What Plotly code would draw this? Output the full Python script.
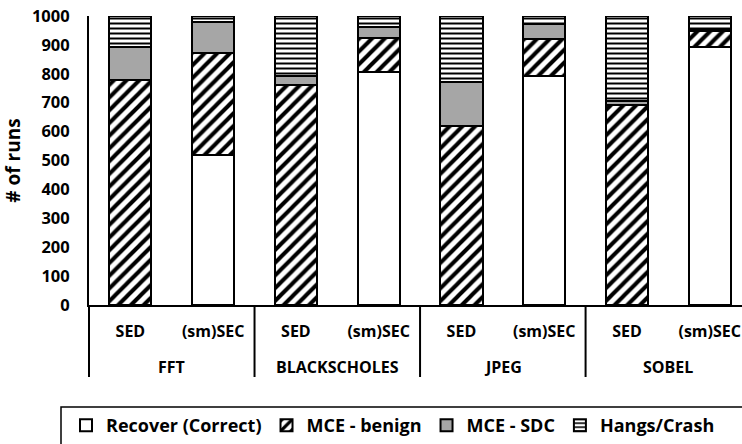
import plotly.graph_objects as go

# Benchmarks and protection schemes (two-level category axis)
benchmarks = ["FFT", "BLACKSCHOLES", "JPEG", "SOBEL"]
schemes = ["SED", "(sm)SEC"]

# Outcome counts per run (out of 1000), ordered FFT-SED, FFT-SEC, BS-SED, ...
recover = [0, 520, 0, 807, 0, 792, 0, 894]
mce_benign = [778, 352, 761, 116, 619, 127, 692, 54]
mce_sdc = [115, 108, 31, 38, 154, 52, 14, 2]
hangs = [107, 20, 208, 39, 227, 29, 294, 50]

y_ticks = [0, 100, 200, 300, 400, 500, 600, 700, 800, 900, 1000]

x_inner = [s for _ in benchmarks for s in schemes]
x_pos = list(range(len(x_inner)))
n_s = len(schemes)

FONT = "Open Sans"
outline = dict(color="black", width=2)

fig = go.Figure()
fig.add_trace(go.Bar(
    name="Recover (Correct)", x=x_pos, y=recover,
    marker=dict(color="white", line=outline),
))
fig.add_trace(go.Bar(
    name="MCE - benign", x=x_pos, y=mce_benign,
    marker=dict(color="white", line=outline,
                pattern=dict(shape="/", fgcolor="black", bgcolor="white",
                             fgopacity=1, size=9, solidity=0.45)),
))
fig.add_trace(go.Bar(
    name="MCE - SDC", x=x_pos, y=mce_sdc,
    marker=dict(color="#a6a6a6", line=outline),
))
fig.add_trace(go.Bar(
    name="Hangs/Crash", x=x_pos, y=hangs,
    marker=dict(color="white", line=outline,
                pattern=dict(shape="-", fgcolor="black", bgcolor="white",
                             fgopacity=1, size=5, solidity=0.4)),
))

# Group labels and dividers for the outer category level
div_bottom = -72 / 289
for g, name in enumerate(benchmarks):
    fig.add_annotation(x=g * n_s + (n_s - 1) / 2, xref="x",
                       y=-62 / 289, yref="paper", yanchor="middle",
                       text=name, showarrow=False,
                       font=dict(family=FONT, size=16, weight="bold"))
    fig.add_shape(type="line", xref="x", yref="paper",
                  x0=g * n_s - 0.5, x1=g * n_s - 0.5, y0=0, y1=div_bottom,
                  line=dict(color="black", width=2))
fig.add_shape(type="line", xref="paper", yref="paper",
              x0=0, x1=0, y0=0, y1=div_bottom,
              line=dict(color="black", width=2))

# Legend frame, open to the right and bottom edges
fig.add_shape(type="rect", xref="paper", yref="paper",
              x0=(61 - 89) / 653, x1=1.2, y0=-0.6, y1=(305 - 407) / 289,
              line=dict(color="black", width=1.5), fillcolor="rgba(0,0,0,0)")

fig.update_layout(
    width=742, height=444,
    margin=dict(l=89, r=0, t=16, b=139),
    paper_bgcolor="white", plot_bgcolor="white",
    barmode="stack", bargap=0.49,
    font=dict(family=FONT, size=16, color="black", weight="bold"),
    showlegend=True,
    legend=dict(orientation="h", x=(66 - 89) / 653, xanchor="left",
                y=(305 - 426) / 289, yanchor="middle",
                traceorder="normal", itemwidth=30,
                font=dict(family=FONT, size=18, weight="bold"),
                bgcolor="rgba(0,0,0,0)", borderwidth=0),
    xaxis=dict(range=[-0.5, 7.39], tickvals=x_pos, ticktext=x_inner,
               showline=True, linecolor="black", linewidth=2,
               ticks="", ticklabelstandoff=11,
               tickfont=dict(family=FONT, size=16, weight="bold"),
               showgrid=False, zeroline=False),
    yaxis=dict(range=[0, 1000], tickvals=y_ticks, showgrid=False,
               showline=True, linecolor="black", linewidth=2,
               ticks="", ticklabelstandoff=14,
               tickfont=dict(family=FONT, size=16.5, weight="bold"),
               title=dict(text="# of runs", standoff=6,
                          font=dict(family=FONT, size=19, weight="bold")),
               zeroline=False),
)

fig.write_html("out.html")
